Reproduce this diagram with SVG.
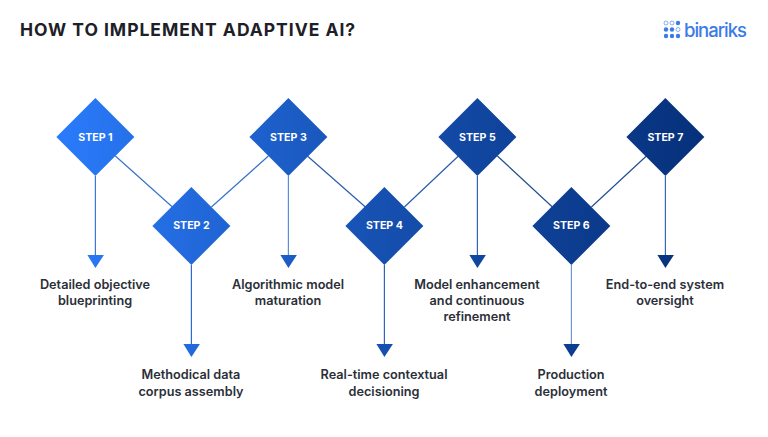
<svg xmlns="http://www.w3.org/2000/svg" width="768" height="437" viewBox="0 0 768 437">
<style>
.lbl{font-family:"Inter","Liberation Sans",sans-serif;font-weight:600;font-size:12.7px;fill:#2b2f38;text-anchor:middle}
.st{font-family:"Inter","Liberation Sans",sans-serif;font-weight:700;font-size:10.6px;fill:#fff;text-anchor:middle}
.c{fill:none;stroke-width:1.2}
.logo{fill:#3b7be8}
</style>
<defs>
<linearGradient id="g" gradientUnits="userSpaceOnUse" x1="56" y1="0" x2="704" y2="0">
<stop offset="0" stop-color="#2a7bfb"/><stop offset="0.5" stop-color="#1650b0"/><stop offset="1" stop-color="#06307a"/>
</linearGradient>
</defs>
<rect width="768" height="437" fill="#fff"/>
<text x="20" y="35.500" font-family="Inter,'Liberation Sans',sans-serif" font-weight="700" font-size="17.5" letter-spacing="0.97" fill="#1d2027">HOW TO IMPLEMENT ADAPTIVE AI?</text>
<g id="logo">
<g class="logo"><circle cx="666" cy="23" r="2" fill="none" stroke="#3b7be8" stroke-width=".6"/><circle cx="672" cy="23" r="2" fill="none" stroke="#3b7be8" stroke-width=".6"/><circle cx="678" cy="23" r="2.2"/><circle cx="666" cy="29.500" r="2.2"/><circle cx="672" cy="29.500" r="2.2"/><circle cx="678" cy="29.500" r="2" fill="none" stroke="#3b7be8" stroke-width=".6"/><circle cx="666" cy="36" r="2.2"/><circle cx="672" cy="36" r="2.2"/><circle cx="678" cy="36" r="2.2"/></g>
<text x="684" y="37" font-family="Inter,'Liberation Sans',sans-serif" font-weight="500" font-size="18.500" textLength="63" fill="#3b7be8">binariks</text>
</g>
<g id="connectors" class="c" transform="translate(.4 0)">
<path class="c" stroke="#3a72d0" d="M115 156L172 207M211 207L268 156"/>
<path class="c" stroke="#2c5cad" d="M307 156L365 207M404 207L458 156"/>
<path class="c" stroke="#24508f" d="M497 156L552 207M591 207L646 156"/>
<path class="c" stroke="#3a78dc" d="M95 176V256"/>
<path class="c" stroke="#2f6ad0" d="M191 265V345"/>
<path class="c" stroke="#5b8ddb" d="M288 176V256"/>
<path class="c" stroke="#2f62bd" d="M384 265V345"/>
<path class="c" stroke="#2f62bd" d="M477 176V256"/>
<path class="c" stroke="#6d97d8" d="M571 265V345"/>
<path class="c" stroke="#3568b5" d="M665 176V256"/>
<path fill="url(#g)" d="M87 255H103.500L95 268ZM183 344H199.500L191 357ZM280 255H296.500L288 268ZM376 344H392.500L384 357ZM469 255H485.500L477 268ZM563 344H579.500L571 357ZM657 255H673.500L665 268Z"/>
</g>
<g id="step1" transform="translate(.4 0)"><path fill="url(#g)" d="M95 98L134 137L95 176L56 137Z"/><text class="st" x="95" y="141">STEP 1</text></g>
<g id="step2" transform="translate(.4 0)"><path fill="url(#g)" d="M191 187L230 226L191 265L152 226Z"/><text class="st" x="191" y="229">STEP 2</text></g>
<g id="step3" transform="translate(.4 0)"><path fill="url(#g)" d="M288 98L327 137L288 176L249 137Z"/><text class="st" x="288" y="141">STEP 3</text></g>
<g id="step4" transform="translate(.4 0)"><path fill="url(#g)" d="M384 187L423 226L384 265L345 226Z"/><text class="st" x="384" y="229">STEP 4</text></g>
<g id="step5" transform="translate(.4 0)"><path fill="url(#g)" d="M477 98L516 137L477 176L438 137Z"/><text class="st" x="477" y="141">STEP 5</text></g>
<g id="step6" transform="translate(.4 0)"><path fill="url(#g)" d="M571 187L610 226L571 265L532 226Z"/><text class="st" x="571" y="229">STEP 6</text></g>
<g id="step7" transform="translate(.4 0)"><path fill="url(#g)" d="M665 98L704 137L665 176L626 137Z"/><text class="st" x="665" y="141">STEP 7</text></g>
<g id="labels">
<text class="lbl" x="95" y="288.500">Detailed objective</text><text class="lbl" x="95" y="304.500">blueprinting</text>
<text class="lbl" x="191" y="379">Methodical data</text><text class="lbl" x="191" y="395.500">corpus assembly</text>
<text class="lbl" x="288" y="288.500">Algorithmic model</text><text class="lbl" x="288" y="304.500">maturation</text>
<text class="lbl" x="384" y="379">Real-time contextual</text><text class="lbl" x="384" y="395.500">decisioning</text>
<text class="lbl" x="477" y="288.500">Model enhancement</text><text class="lbl" x="477" y="304.500">and continuous</text><text class="lbl" x="477" y="320.500">refinement</text>
<text class="lbl" x="571" y="379">Production</text><text class="lbl" x="571" y="395.500">deployment</text>
<text class="lbl" x="665" y="288.500">End-to-end system</text><text class="lbl" x="665" y="304.500">oversight</text>
</g>
</svg>
